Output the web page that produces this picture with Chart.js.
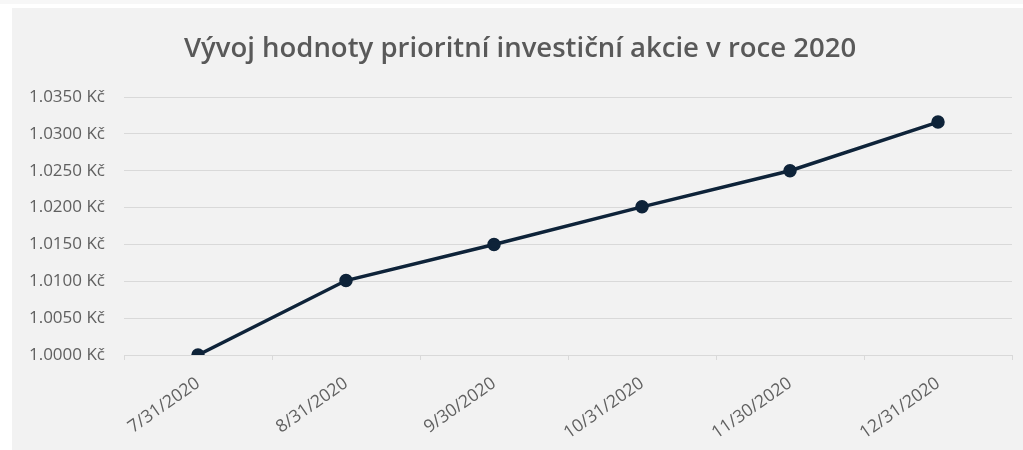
<!DOCTYPE html>
<html>
<head>
<meta charset="utf-8">
<script src="https://cdn.jsdelivr.net/npm/chart.js@4"></script>
<style>
    html, body { margin: 0; padding: 0; background: #ffffff; }
    body { width: 1023px; height: 450px; position: relative; overflow: hidden; }
    .strip { position: absolute; left: 0; top: 0; width: 1023px; height: 4px; background: #f7f7f7; }
    .box { position: absolute; left: 12px; top: 8px; width: 1011px; height: 442px; background: #f2f2f2; }
    canvas { display: block; }
</style>
</head>
<body>
<div class="strip"></div>
<div class="box"><canvas id="chart" width="1011" height="442"></canvas></div>
<script>
// Chart data
const dates = ['7/31/2020', '8/31/2020', '9/30/2020', '10/31/2020', '11/30/2020', '12/31/2020'];
const values = [1.0000, 1.0101, 1.0150, 1.0201, 1.0250, 1.0316];
const yMin = 1.0000;
const yMax = 1.0350;
const yStep = 0.005;

const textColor = '#595959';
const gridColor = '#d9d9d9';
const lineColor = '#0e2339';

new Chart(document.getElementById('chart'), {
    type: 'line',
    data: {
        labels: dates,
        datasets: [{
            data: values,
            borderColor: lineColor,
            backgroundColor: lineColor,
            borderWidth: 3.5,
            pointRadius: 5,
            pointHoverRadius: 5,
            pointBackgroundColor: lineColor,
            pointBorderColor: lineColor,
            tension: 0,
            fill: false
        }]
    },
    options: {
        responsive: false,
        animation: false,
        layout: {padding: {left: 16, right: 11, top: 0, bottom: 0}},
        plugins: {
            legend: {display: false},
            tooltip: {enabled: false},
            title: {
                display: true,
                text: 'Vývoj hodnoty prioritní investiční akcie v roce 2020',
                color: textColor,
                font: {family: 'Open Sans', size: 27.5, weight: '600'},
                padding: {top: 25, bottom: 31}
            }
        },
        scales: {
            x: {
                offset: true,
                grid: {
                    display: true,
                    drawOnChartArea: false,
                    offset: true,
                    color: gridColor,
                    tickLength: 5
                },
                border: {display: true, color: gridColor},
                ticks: {
                    color: '#606060',
                    font: {family: 'Open Sans', size: 17.5},
                    minRotation: 35,
                    maxRotation: 35,
                    padding: 13
                },
                afterFit: scale => { scale.height = 95; }
            },
            y: {
                min: yMin,
                max: yMax,
                grid: {color: gridColor, drawTicks: false},
                border: {display: false},
                ticks: {
                    stepSize: yStep,
                    color: '#606060',
                    font: {family: 'Open Sans', size: 17},
                    padding: 19,
                    callback: v => v.toFixed(4) + ' Kč'
                },
                afterFit: scale => { scale.width = 96; }
            }
        }
    }
});
</script>
</body>
</html>
